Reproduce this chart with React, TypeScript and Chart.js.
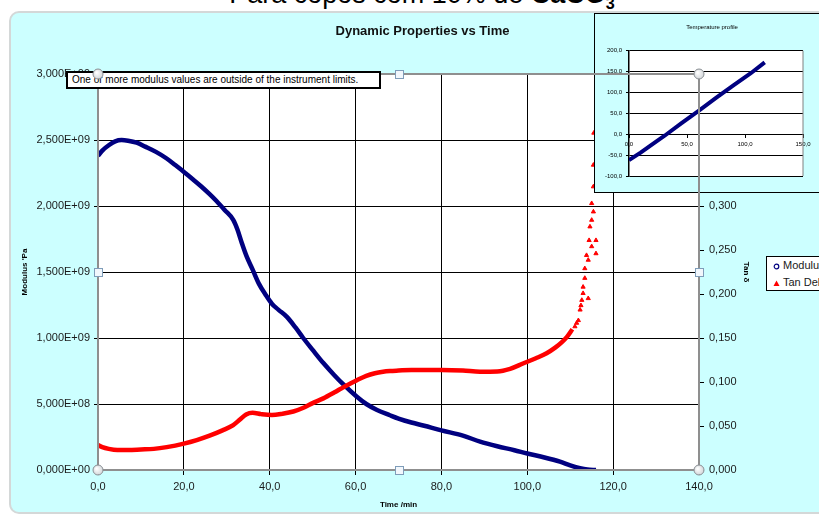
import React, { useEffect, useRef } from 'react';
import { Chart, registerables } from 'chart.js';

Chart.register(...registerables);

const FONT = '"Liberation Sans", Arial, sans-serif';

// ---- Main chart data ----
const modulusTime = [0, 1, 2.5, 4, 5.5, 7, 9, 11, 13.5, 16, 18, 20.3, 22, 24, 26, 27.6, 29.5, 31.5, 32.5, 33.5, 34.6, 36, 37.5, 39, 40.5, 42, 44, 46, 47.8, 50, 52.5, 55, 57.1, 60.3, 62.5, 65, 68, 70, 73, 76, 80, 85, 89, 93, 97, 100, 104, 107.6, 110, 112.3, 114, 116];
const modulusValues = [2.38e9, 2.42e9, 2.46e9, 2.49e9, 2.5e9, 2.495e9, 2.48e9, 2.45e9, 2.41e9, 2.36e9, 2.31e9, 2.25e9, 2.205e9, 2.15e9, 2.09e9, 2.038e9, 1.97e9, 1.895e9, 1.82e9, 1.72e9, 1.62e9, 1.52e9, 1.41e9, 1.33e9, 1.26e9, 1.215e9, 1.16e9, 1.08e9, 1.0e9, 0.91e9, 0.81e9, 0.72e9, 0.65e9, 0.555e9, 0.5e9, 0.455e9, 0.415e9, 0.39e9, 0.36e9, 0.335e9, 0.3e9, 0.26e9, 0.215e9, 0.18e9, 0.15e9, 0.125e9, 0.095e9, 0.063e9, 0.035e9, 0.013e9, 0.003e9, 0];

const tanTime = [0, 1, 2.5, 4.5, 7, 10, 13, 16, 20, 23, 26, 29, 31.5, 33, 34.5, 36, 38, 40.5, 43, 45.5, 48, 50, 52.5, 55, 57.5, 60.3, 62.5, 64.5, 66.4, 68, 70, 73, 76, 80, 85, 89, 93, 96, 99, 102, 104.5, 106.5, 108, 109.2, 110.5];
const tanValues = [0.0284, 0.026, 0.024, 0.0227, 0.0227, 0.0233, 0.024, 0.026, 0.03, 0.034, 0.039, 0.045, 0.051, 0.057, 0.063, 0.065, 0.0635, 0.0625, 0.064, 0.0665, 0.071, 0.076, 0.0814, 0.088, 0.095, 0.102, 0.107, 0.11, 0.1117, 0.1125, 0.113, 0.1136, 0.1136, 0.1136, 0.113, 0.1117, 0.112, 0.115, 0.121, 0.127, 0.1326, 0.139, 0.145, 0.151, 0.16];

const tanTailTime = [111.1, 111.5, 111.9, 112.3, 112.5, 112.7, 113.0, 113.0, 113.4, 113.4, 114.2, 113.8, 114.2, 115.0, 114.4, 116.0, 116.0, 114.6, 115.0, 115.4, 115.0, 115.4, 115.4, 115.5];
const tanTailValues = [0.163, 0.167, 0.17, 0.182, 0.187, 0.193, 0.2008, 0.208, 0.218, 0.229, 0.2386, 0.244, 0.195, 0.254, 0.261, 0.261, 0.246, 0.2765, 0.284, 0.2935, 0.303, 0.322, 0.3466, 0.383];

const timeTicks = [0, 20, 40, 60, 80, 100, 120, 140];
const modulusTicks = [0, 5e8, 1e9, 1.5e9, 2e9, 2.5e9, 3e9];
const tanTicks = [0, 0.05, 0.1, 0.15, 0.2, 0.25, 0.3, 0.35, 0.4, 0.45];

// ---- Inset data ----
const insetTime = [0, 10, 20, 31, 45, 60, 75, 90, 105, 117];
const insetTemp = [-62, -44, -24, -3, 26, 56, 87, 117, 146, 172];
const insetXTicks = [0, 50, 100, 150];
const insetYTicks = [-100, -50, 0, 50, 100, 150, 200];

const fmt1 = (v: number) => v.toFixed(1).replace('.', ',');
const fmt3 = (v: number) => v.toFixed(3).replace('.', ',');
const fmtExp = (v: number) => {
  const [m, e] = v.toExponential(3).split('e');
  const n = parseInt(e, 10);
  return m.replace('.', ',') + 'E' + (n < 0 ? '-' : '+') + String(Math.abs(n)).padStart(2, '0');
};

const whiteArea = {
  id: 'whiteArea',
  beforeDraw(chart: any) {
    const { ctx, chartArea: a } = chart;
    ctx.save();
    ctx.fillStyle = '#ffffff';
    ctx.fillRect(a.left, a.top, a.right - a.left, a.bottom - a.top);
    ctx.restore();
  },
};

const rightEdge = {
  id: 'rightEdge',
  afterDraw(chart: any) {
    const { ctx, chartArea: a } = chart;
    ctx.save();
    ctx.strokeStyle = '#808080';
    ctx.lineWidth = 1;
    ctx.beginPath();
    ctx.moveTo(a.right, a.top);
    ctx.lineTo(a.right, a.bottom);
    ctx.stroke();
    ctx.restore();
  },
};

export default function App() {
  const mainRef = useRef<HTMLCanvasElement>(null);
  const insetRef = useRef<HTMLCanvasElement>(null);
  const linesRef = useRef<HTMLCanvasElement>(null);
  const handlesRef = useRef<HTMLCanvasElement>(null);

  useEffect(() => {
    const tickFont = { family: FONT, size: 11 };
    const main = new Chart(mainRef.current as HTMLCanvasElement, {
      type: 'line',
      data: {
        datasets: [
          {
            label: 'Modulus',
            data: modulusTime.map((t, i) => ({ x: t, y: modulusValues[i] })),
            yAxisID: 'y',
            borderColor: '#000080',
            backgroundColor: '#000080',
            borderWidth: 4.5,
            pointRadius: 0,
            cubicInterpolationMode: 'monotone',
            order: 2,
          },
          {
            label: 'Tan Delta',
            data: tanTime.map((t, i) => ({ x: t, y: tanValues[i] })),
            yAxisID: 'y2',
            borderColor: '#ff0000',
            backgroundColor: '#ff0000',
            borderWidth: 4.5,
            pointRadius: 0,
            cubicInterpolationMode: 'monotone',
            order: 1,
          },
          {
            label: 'Tan Delta',
            data: tanTailTime.map((t, i) => ({ x: t, y: tanTailValues[i] })),
            yAxisID: 'y2',
            borderColor: '#ff0000',
            backgroundColor: '#ff0000',
            showLine: false,
            pointStyle: 'triangle',
            pointRadius: 2.4,
            borderWidth: 1,
            order: 0,
          },
        ],
      },
      options: {
        animation: false,
        responsive: false,
        devicePixelRatio: 1,
        events: [],
        layout: { padding: { left: 26, right: 0, top: 0, bottom: 0 } },
        plugins: {
          legend: { display: false },
          tooltip: { enabled: false },
          title: {
            display: true,
            text: 'Dynamic Properties vs Time',
            color: '#111',
            font: { family: FONT, size: 13, weight: 'bold' },
            padding: { top: 24, bottom: 34.4 },
          },
        },
        scales: {
          x: {
            type: 'linear',
            min: 0,
            max: 140,
            afterBuildTicks: (axis: any) => { axis.ticks = timeTicks.map((v) => ({ value: v })); },
            afterFit: (s: any) => { s.height = 46; },
            ticks: { callback: (v: any) => fmt1(Number(v)), font: tickFont, color: '#1a1a1a', padding: 5, maxRotation: 0, autoSkip: false },
            grid: { color: '#000', lineWidth: 1, tickLength: 5 },
            border: { color: '#808080', width: 2 },
            title: { display: true, text: 'Time /min', color: '#000', font: { family: FONT, size: 8, weight: 'bold' }, padding: { top: 0, bottom: 6 } },
          },
          y: {
            type: 'linear',
            position: 'left',
            min: 0,
            max: 3e9,
            afterBuildTicks: (axis: any) => { axis.ticks = modulusTicks.map((v) => ({ value: v })); },
            afterFit: (s: any) => { s.width = 72; },
            ticks: { callback: (v: any) => fmtExp(Number(v)), font: tickFont, color: '#1a1a1a', padding: 4 },
            grid: { color: '#000', lineWidth: 1, tickLength: 4 },
            border: { color: '#808080', width: 2 },
            title: { display: true, text: "Modulus 'Pa", color: '#000', font: { family: FONT, size: 8, weight: 'bold' }, padding: { top: -6, bottom: 0 } },
          },
          y2: {
            type: 'linear',
            position: 'right',
            min: 0,
            max: 0.45,
            afterBuildTicks: (axis: any) => { axis.ticks = tanTicks.map((v) => ({ value: v })); },
            afterFit: (s: any) => { s.width = 120; },
            ticks: { callback: (v: any) => fmt3(Number(v)), font: tickFont, color: '#1a1a1a', padding: 5 },
            grid: { drawOnChartArea: false, color: '#000', lineWidth: 1, tickLength: 5 },
            border: { color: '#808080', width: 2 },
            title: { display: true, text: 'Tan δ', color: '#000', font: { family: FONT, size: 8, weight: 'bold' }, padding: { top: 68, bottom: 0 } },
          },
        },
      },
      plugins: [whiteArea],
    } as any);

    const smallFont = { family: FONT, size: 6 };
    const inset = new Chart(insetRef.current as HTMLCanvasElement, {
      type: 'line',
      data: {
        datasets: [
          {
            label: 'Temperature',
            data: insetTime.map((t, i) => ({ x: t, y: insetTemp[i] })),
            borderColor: '#000080',
            borderWidth: 4,
            pointRadius: 0,
            tension: 0,
          },
        ],
      },
      options: {
        animation: false,
        responsive: false,
        devicePixelRatio: 1,
        events: [],
        layout: { padding: { left: 0, right: 32, top: 36.7, bottom: 16 } },
        plugins: {
          legend: { display: false },
          tooltip: { enabled: false },
          title: { display: false },
        },
        scales: {
          x: {
            type: 'linear',
            position: { y: 0 },
            min: 0,
            max: 150,
            afterBuildTicks: (axis: any) => { axis.ticks = insetXTicks.map((v) => ({ value: v })); },
            ticks: { callback: (v: any) => fmt1(Number(v)), font: smallFont, color: '#000', padding: 4, maxRotation: 0, autoSkip: false },
            grid: { drawOnChartArea: false, color: '#000', tickLength: 3 },
            border: { color: '#000', width: 1 },
          },
          y: {
            type: 'linear',
            min: -100,
            max: 200,
            afterBuildTicks: (axis: any) => { axis.ticks = insetYTicks.map((v) => ({ value: v })); },
            afterFit: (s: any) => { s.width = 34; },
            ticks: { callback: (v: any) => fmt1(Number(v)), font: smallFont, color: '#000', padding: 4, autoSkip: false },
            grid: { color: '#000', lineWidth: 1, tickLength: 3 },
            border: { color: '#000', width: 1.5 },
          },
        },
      },
      plugins: [whiteArea, rightEdge],
    } as any);

    // Selection frame (Excel-style) around the main plot area
    const a = main.chartArea;
    const lc = (linesRef.current as HTMLCanvasElement).getContext('2d') as CanvasRenderingContext2D;
    lc.clearRect(0, 0, 819, 516);
    lc.strokeStyle = '#8f8f8f';
    lc.lineWidth = 2;
    lc.strokeRect(a.left, a.top, a.right - a.left, a.bottom - a.top);

    const hc = (handlesRef.current as HTMLCanvasElement).getContext('2d') as CanvasRenderingContext2D;
    hc.clearRect(0, 0, 819, 516);
    const mx = Math.round((a.left + a.right) / 2);
    const my = Math.round((a.top + a.bottom) / 2);
    const corners = [[a.left, a.top], [a.right, a.top], [a.left, a.bottom], [a.right, a.bottom]];
    corners.forEach(([x, y]) => {
      const g = hc.createRadialGradient(x - 1.5, y - 1.5, 0.5, x, y, 5.5);
      g.addColorStop(0, '#ffffff');
      g.addColorStop(1, '#cfd3d6');
      hc.beginPath();
      hc.arc(x, y, 5, 0, Math.PI * 2);
      hc.fillStyle = g;
      hc.fill();
      hc.strokeStyle = '#8a8f94';
      hc.lineWidth = 1;
      hc.stroke();
    });
    const mids = [[mx, a.top], [mx, a.bottom], [a.left, my], [a.right, my]];
    mids.forEach(([x, y]) => {
      hc.fillStyle = '#f2f7fc';
      hc.fillRect(x - 4, y - 4, 8, 8);
      hc.strokeStyle = '#7f9db9';
      hc.lineWidth = 1;
      hc.strokeRect(x - 4 + 0.5, y - 4 + 0.5, 8, 8);
    });

    return () => {
      main.destroy();
      inset.destroy();
    };
  }, []);

  const abs: React.CSSProperties = { position: 'absolute', display: 'block' };

  return (
    <div style={{ position: 'fixed', left: 0, top: 0, width: 819, height: 516, overflow: 'hidden', background: '#ffffff' }}>
      <div style={{ ...abs, left: 9, top: 11, width: 840, height: 503, background: '#ccffff', border: '2px solid #d4d8d8', borderRadius: 10, boxSizing: 'border-box' }} />
      <div style={{ ...abs, left: 0, top: -19, width: 844, textAlign: 'center', font: `27px ${FONT}`, lineHeight: '27px', color: '#000', whiteSpace: 'nowrap' }}>
        Para copos com 10% de <b>CaCO<sub style={{ fontSize: '0.6em' }}>3</sub></b>
      </div>
      <canvas ref={mainRef} width={819} height={516} style={{ ...abs, left: 0, top: 0 }} />
      <div style={{ ...abs, left: 594, top: 13, width: 242, height: 180, border: '1px solid #000', background: '#ccffff', boxSizing: 'border-box' }}>
        <canvas ref={insetRef} width={240} height={178} style={{ ...abs, left: 0, top: 0 }} />
        <div style={{ position: 'absolute', left: 67, top: 9, width: 100, textAlign: 'center', font: `6px ${FONT}`, lineHeight: '8px', color: '#000', whiteSpace: 'nowrap' }}>
          Temperature profile
        </div>
      </div>
      <canvas ref={linesRef} width={819} height={516} style={{ ...abs, left: 0, top: 0, pointerEvents: 'none' }} />
      <div style={{ ...abs, left: 66, top: 71, width: 315, height: 18, border: '2px solid #000', background: '#fff', boxSizing: 'border-box', font: `10px ${FONT}`, lineHeight: '14px', paddingLeft: 4, whiteSpace: 'nowrap', color: '#000' }}>
        One or more modulus values are outside of the instrument limits.
      </div>
      <div style={{ ...abs, left: 766, top: 256, width: 80, height: 35, border: '1px solid #000', background: '#fff', boxSizing: 'border-box', font: `11px ${FONT}`, color: '#1a1a1a', whiteSpace: 'nowrap' }}>
        <div style={{ position: 'absolute', left: 6, top: 0, height: 17, lineHeight: '17px' }}>
          <svg width="7" height="7" style={{ verticalAlign: 'middle', marginRight: 3 }}>
            <circle cx="3.5" cy="3.5" r="2.3" fill="#fff" stroke="#000080" strokeWidth="1.2" />
          </svg>
          Modulus
        </div>
        <div style={{ position: 'absolute', left: 6, top: 17, height: 17, lineHeight: '17px' }}>
          <svg width="7" height="7" style={{ verticalAlign: 'middle', marginRight: 3 }}>
            <polygon points="3.5,0.5 6.5,6 0.5,6" fill="#ff0000" />
          </svg>
          Tan Delta
        </div>
      </div>
      <canvas ref={handlesRef} width={819} height={516} style={{ ...abs, left: 0, top: 0, pointerEvents: 'none' }} />
    </div>
  );
}
